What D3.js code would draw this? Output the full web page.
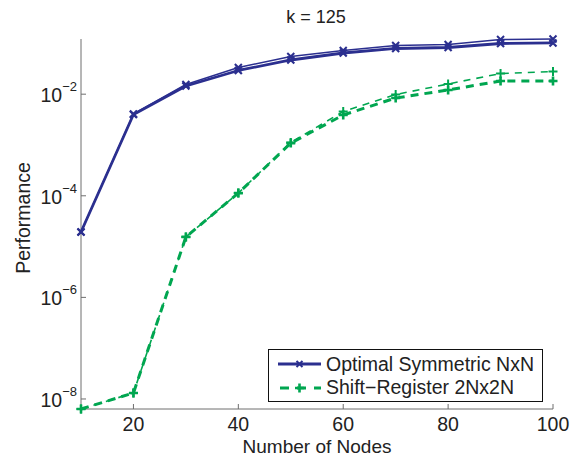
<!DOCTYPE html>
<html><head><meta charset="utf-8">
<script src="https://cdn.jsdelivr.net/npm/d3@7"></script>
<style>body{margin:0;background:#fff}svg{display:block}text{font-family:"Liberation Sans",Arial,sans-serif;fill:#222}</style>
</head><body><div id="chart"></div>
<script>
const nodes = [10,20,30,40,50,60,70,80,90,100];
const optThick = [1.94e-5,3.98e-3,0.0145,0.0293,0.0471,0.0647,0.0794,0.083,0.0995,0.102];
const optThin  = [1.94e-5,4.07e-3,0.0155,0.0336,0.0552,0.0724,0.091,0.095,0.119,0.122];
const srThick  = [6.35e-9,1.31e-8,1.55e-5,1.13e-4,1.09e-3,3.9e-3,8.4e-3,0.0121,0.0182,0.0182];
const srThin   = [6.35e-9,1.31e-8,1.55e-5,1.13e-4,1.12e-3,4.56e-3,9.86e-3,0.0159,0.0255,0.028];
const xTicks = [20,40,60,80,100];
const yTickExp = [-8,-6,-4,-2];
const legendLabels = ["Optimal Symmetric NxN","Shift\u2212Register 2Nx2N"];
const blue = "#2b2f8f", green = "#00a650";

const W=582,H=456;
const svg=d3.select("#chart").append("svg").attr("width",W).attr("height",H);
const x=d3.scaleLinear().domain([10,100]).range([81,553]);
const y=d3.scaleLog().domain([6.35e-9,0.122]).range([409,39]);

// axes
const axCol="#6e6e6e";
svg.append("line").attr("x1",x(10)).attr("x2",x(10)).attr("y1",y.range()[1]).attr("y2",y.range()[0]).attr("stroke",axCol).attr("stroke-width",1);
svg.append("line").attr("x1",x(10)).attr("x2",x(100)).attr("y1",y.range()[0]).attr("y2",y.range()[0]).attr("stroke",axCol).attr("stroke-width",1);
xTicks.forEach(t=>{
  svg.append("line").attr("x1",x(t)).attr("x2",x(t)).attr("y1",409).attr("y2",404).attr("stroke",axCol);
  svg.append("text").attr("x",x(t)).attr("y",431).attr("text-anchor","middle").attr("font-size",19.5).text(t);
});
yTickExp.forEach(e=>{
  const v=Math.pow(10,e);
  svg.append("line").attr("x1",81).attr("x2",86).attr("y1",y(v)).attr("y2",y(v)).attr("stroke",axCol);
  const t=svg.append("text").attr("x",77).attr("y",y(v)+8).attr("text-anchor","end").attr("font-size",19.5);
  t.append("tspan").text("10");
  t.append("tspan").attr("dy",-11).attr("font-size",13).text("\u2212"+(-e));
});
svg.append("text").attr("x",317).attr("y",453).attr("text-anchor","middle").attr("font-size",19).text("Number of Nodes");
svg.append("text").attr("transform","translate(30,218) rotate(-90)").attr("text-anchor","middle").attr("font-size",19.5).text("Performance");
svg.append("text").attr("x",316).attr("y",23).attr("text-anchor","middle").attr("font-size",18).text("k = 125");

const line=d3.line().x((d,i)=>x(nodes[i])).y(d=>y(d));
function xMark(g,cx,cy,s,col,w){
  g.append("path").attr("d",`M${cx-s},${cy-s}L${cx+s},${cy+s}M${cx-s},${cy+s}L${cx+s},${cy-s}`).attr("stroke",col).attr("stroke-width",w).attr("fill","none");
}
function plusMark(g,cx,cy,s,col,w){
  g.append("path").attr("d",`M${cx-s},${cy}L${cx+s},${cy}M${cx},${cy-s}L${cx},${cy+s}`).attr("stroke",col).attr("stroke-width",w).attr("fill","none");
}
function series(data,col,w,dash,mark,ms,mw){
  const g=svg.append("g");
  g.append("path").datum(data).attr("d",line).attr("fill","none").attr("stroke",col).attr("stroke-width",w).attr("stroke-dasharray",dash).attr("stroke-linejoin","round");
  data.forEach((d,i)=>mark(g,x(nodes[i]),y(d),ms,col,mw));
}
series(optThin,blue,1.5,null,xMark,3.5,2);
series(optThick,blue,2.8,null,xMark,3.5,2.2);
series(srThin,green,1.6,"7,6",plusMark,4.5,2);
series(srThick,green,3,"8,6",plusMark,4.5,2.6);

// legend
const lg=svg.append("g");
lg.append("rect").attr("x",268.5).attr("y",349.5).attr("width",274).attr("height",52).attr("fill","#fff").attr("stroke","#111").attr("stroke-width",1);
lg.append("line").attr("x1",278).attr("x2",321).attr("y1",364).attr("y2",364).attr("stroke",blue).attr("stroke-width",2.8);
xMark(lg,299.5,364,3,blue,2);
lg.append("line").attr("x1",278).attr("x2",321).attr("y1",388).attr("y2",388).attr("stroke",green).attr("stroke-width",3).attr("stroke-dasharray","9,8").attr("stroke-dashoffset",-2);
plusMark(lg,299.5,388,4.5,green,2.6);
lg.append("text").attr("x",326).attr("y",370.5).attr("font-size",19.5).text(legendLabels[0]);
lg.append("text").attr("x",326).attr("y",394).attr("font-size",19.5).text(legendLabels[1]);
</script></body></html>
